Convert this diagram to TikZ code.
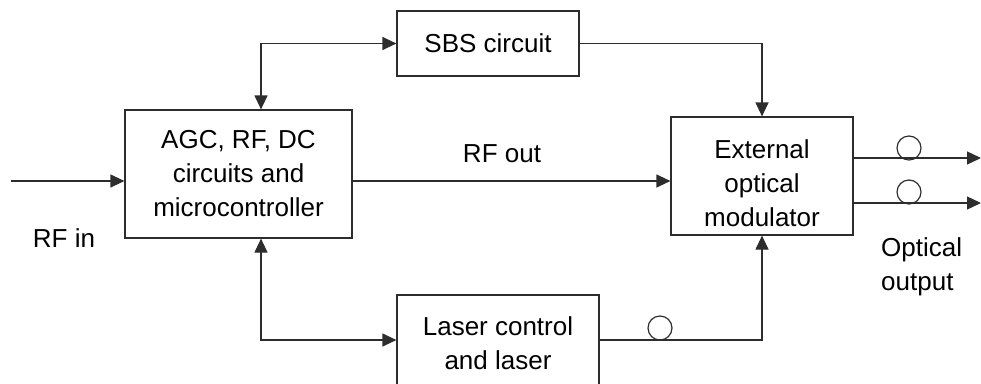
\documentclass[tikz,border=0pt]{standalone}
\usepackage{fontspec}
\setmainfont{Liberation Sans}
\usetikzlibrary{arrows.meta}
\definecolor{ink}{RGB}{45,45,45}
\tikzset{
  every node/.style={font=\fontsize{26}{34}\selectfont, text=black},
  box/.style={draw=ink, line width=1.2pt, rectangle, inner sep=0pt, align=center},
  txt/.style={inner sep=0pt, align=center},
  wire/.style={draw=ink, line width=1.2pt},
  arr/.style={wire, -{Triangle[length=14pt,width=13pt]}},
  darr/.style={wire, {Triangle[length=14pt,width=13pt]}-{Triangle[length=14pt,width=13pt]}},
  ring/.style={draw=ink, line width=1.2pt, circle, inner sep=0pt, minimum size=24pt},
}
\begin{document}
\begin{tikzpicture}[x=1pt,y=-1pt]
\useasboundingbox (0,0) rectangle (981,383);
\clip (0,0) rectangle (981,383);
% boxes
\node[box, minimum width=227pt, minimum height=128pt] (agc) at (238.5,174) {AGC, RF, DC\\circuits and\\microcontroller};
\node[box, minimum width=182pt, minimum height=65pt] (sbs) at (488,43.5) {SBS circuit};
\node[box, minimum width=182pt, minimum height=118pt] (mod) at (762,176) {};
\node[txt] (modtxt) at (762,183) {External\\optical\\modulator};
\node[box, minimum width=202pt, minimum height=90pt] (laser) at (498,340) {};
\node[txt] (lasertxt) at (498,343) {Laser control\\and laser};
% labels
\node[txt] (rfin) at (64,238.5) {RF in};
\node[txt] (rfout) at (502,154) {RF out};
\node[txt, align=left, anchor=west] (optout) at (881,267) {Optical\\output};
% helper coordinates
\coordinate (src) at (11,181);
\coordinate (jx) at (261,0);
\coordinate (o1) at (981,158);
\coordinate (o2) at (981,203);
% connectors
\draw[arr] (src) -- (src -| agc.west);
\draw[arr] (agc.east |- src) -- (mod.west |- src);
\draw[darr] (agc.north -| jx) |- (sbs.west);
\draw[darr] (agc.south -| jx) |- (laser.west);
\draw[arr] (sbs.east) -| (mod.north);
\draw[arr] (laser.east) -| (mod.south);
\draw[arr] (mod.east |- o1) -- (o1);
\draw[arr] (mod.east |- o2) -- (o2);
% fibre rings
\node[ring] (c1) at (909,148) {};
\node[ring] (c2) at (909,192) {};
\node[ring] (c3) at (660,328) {};
\end{tikzpicture}
\end{document}
